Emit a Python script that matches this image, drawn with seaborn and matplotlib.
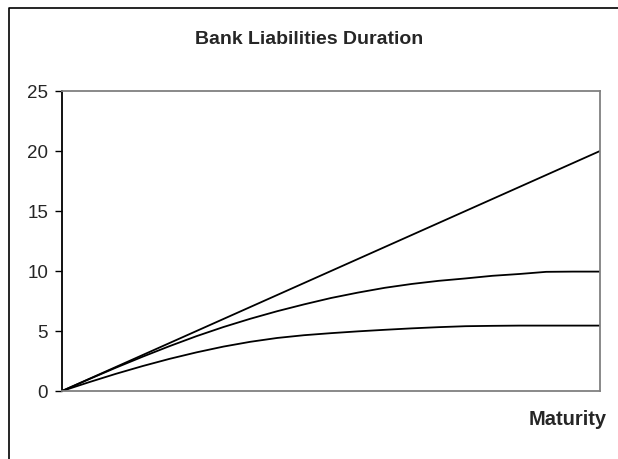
import pandas as pd
import matplotlib
matplotlib.use('Agg')
import matplotlib.pyplot as plt
import seaborn as sns
from matplotlib.lines import Line2D

sns.set_style("white")
plt.rcParams['font.family'] = ['Liberation Sans', 'DejaVu Sans']

# Maturity (years) and duration
maturity = list(range(0, 21))
dur_zero = [0, 1, 2, 3, 4, 5, 6, 7, 8, 9, 10, 11, 12, 13, 14, 15, 16, 17, 18, 19, 20]
dur_mid = [0, 0.98, 1.94, 2.86, 3.74, 4.57, 5.33, 6.02, 6.65, 7.22, 7.75,
           8.20, 8.60, 8.92, 9.18, 9.38, 9.60, 9.75, 9.93, 9.95, 9.95]
dur_low = [0, 0.73, 1.43, 2.08, 2.68, 3.22, 3.70, 4.10, 4.42, 4.65, 4.82,
           4.97, 5.10, 5.22, 5.32, 5.40, 5.43, 5.45, 5.45, 5.45, 5.45]

df = pd.DataFrame({
    'Maturity': maturity * 3,
    'Duration': dur_zero + dur_mid + dur_low,
    'Series': ['zero'] * 21 + ['mid'] * 21 + ['low'] * 21,
})

fig = plt.figure(figsize=(6.18, 4.60), dpi=100)
ax = fig.add_axes([62 / 618, 68 / 460, 538 / 618, 300 / 460])

sns.lineplot(data=df, x='Maturity', y='Duration', hue='Series',
             palette=['black', 'black', 'black'], linewidth=1.3,
             legend=False, ax=ax)

ax.set_xlim(0, 20)
ax.set_ylim(0, 25)
ax.set_xticks([])
ax.set_yticks([0, 5, 10, 15, 20, 25])
ax.set_xlabel('')
ax.set_ylabel('')
ax.tick_params(axis='y', direction='out', length=5, width=1, color='black',
               labelsize=13.5, pad=5, left=True)

for side in ['top', 'right', 'bottom']:
    ax.spines[side].set_color('#808080')
    ax.spines[side].set_linewidth(1.3)
ax.spines['left'].set_color('black')
ax.spines['left'].set_linewidth(1.3)

fig.text(309 / 618, 1 - 39 / 460, 'Bank Liabilities Duration',
         ha='center', va='center', fontsize=14, fontweight='bold')
fig.text(607 / 618, 1 - 420 / 460, 'Maturity',
         ha='right', va='center', fontsize=14.5, fontweight='bold')

# chart frame (left and top edges)
fig.add_artist(Line2D([9 / 618, 9 / 618, 1.0], [0.0, 1 - 9 / 460, 1 - 9 / 460],
                      transform=fig.transFigure, color='black', linewidth=1.2))

plt.savefig('out.png', dpi=100)
